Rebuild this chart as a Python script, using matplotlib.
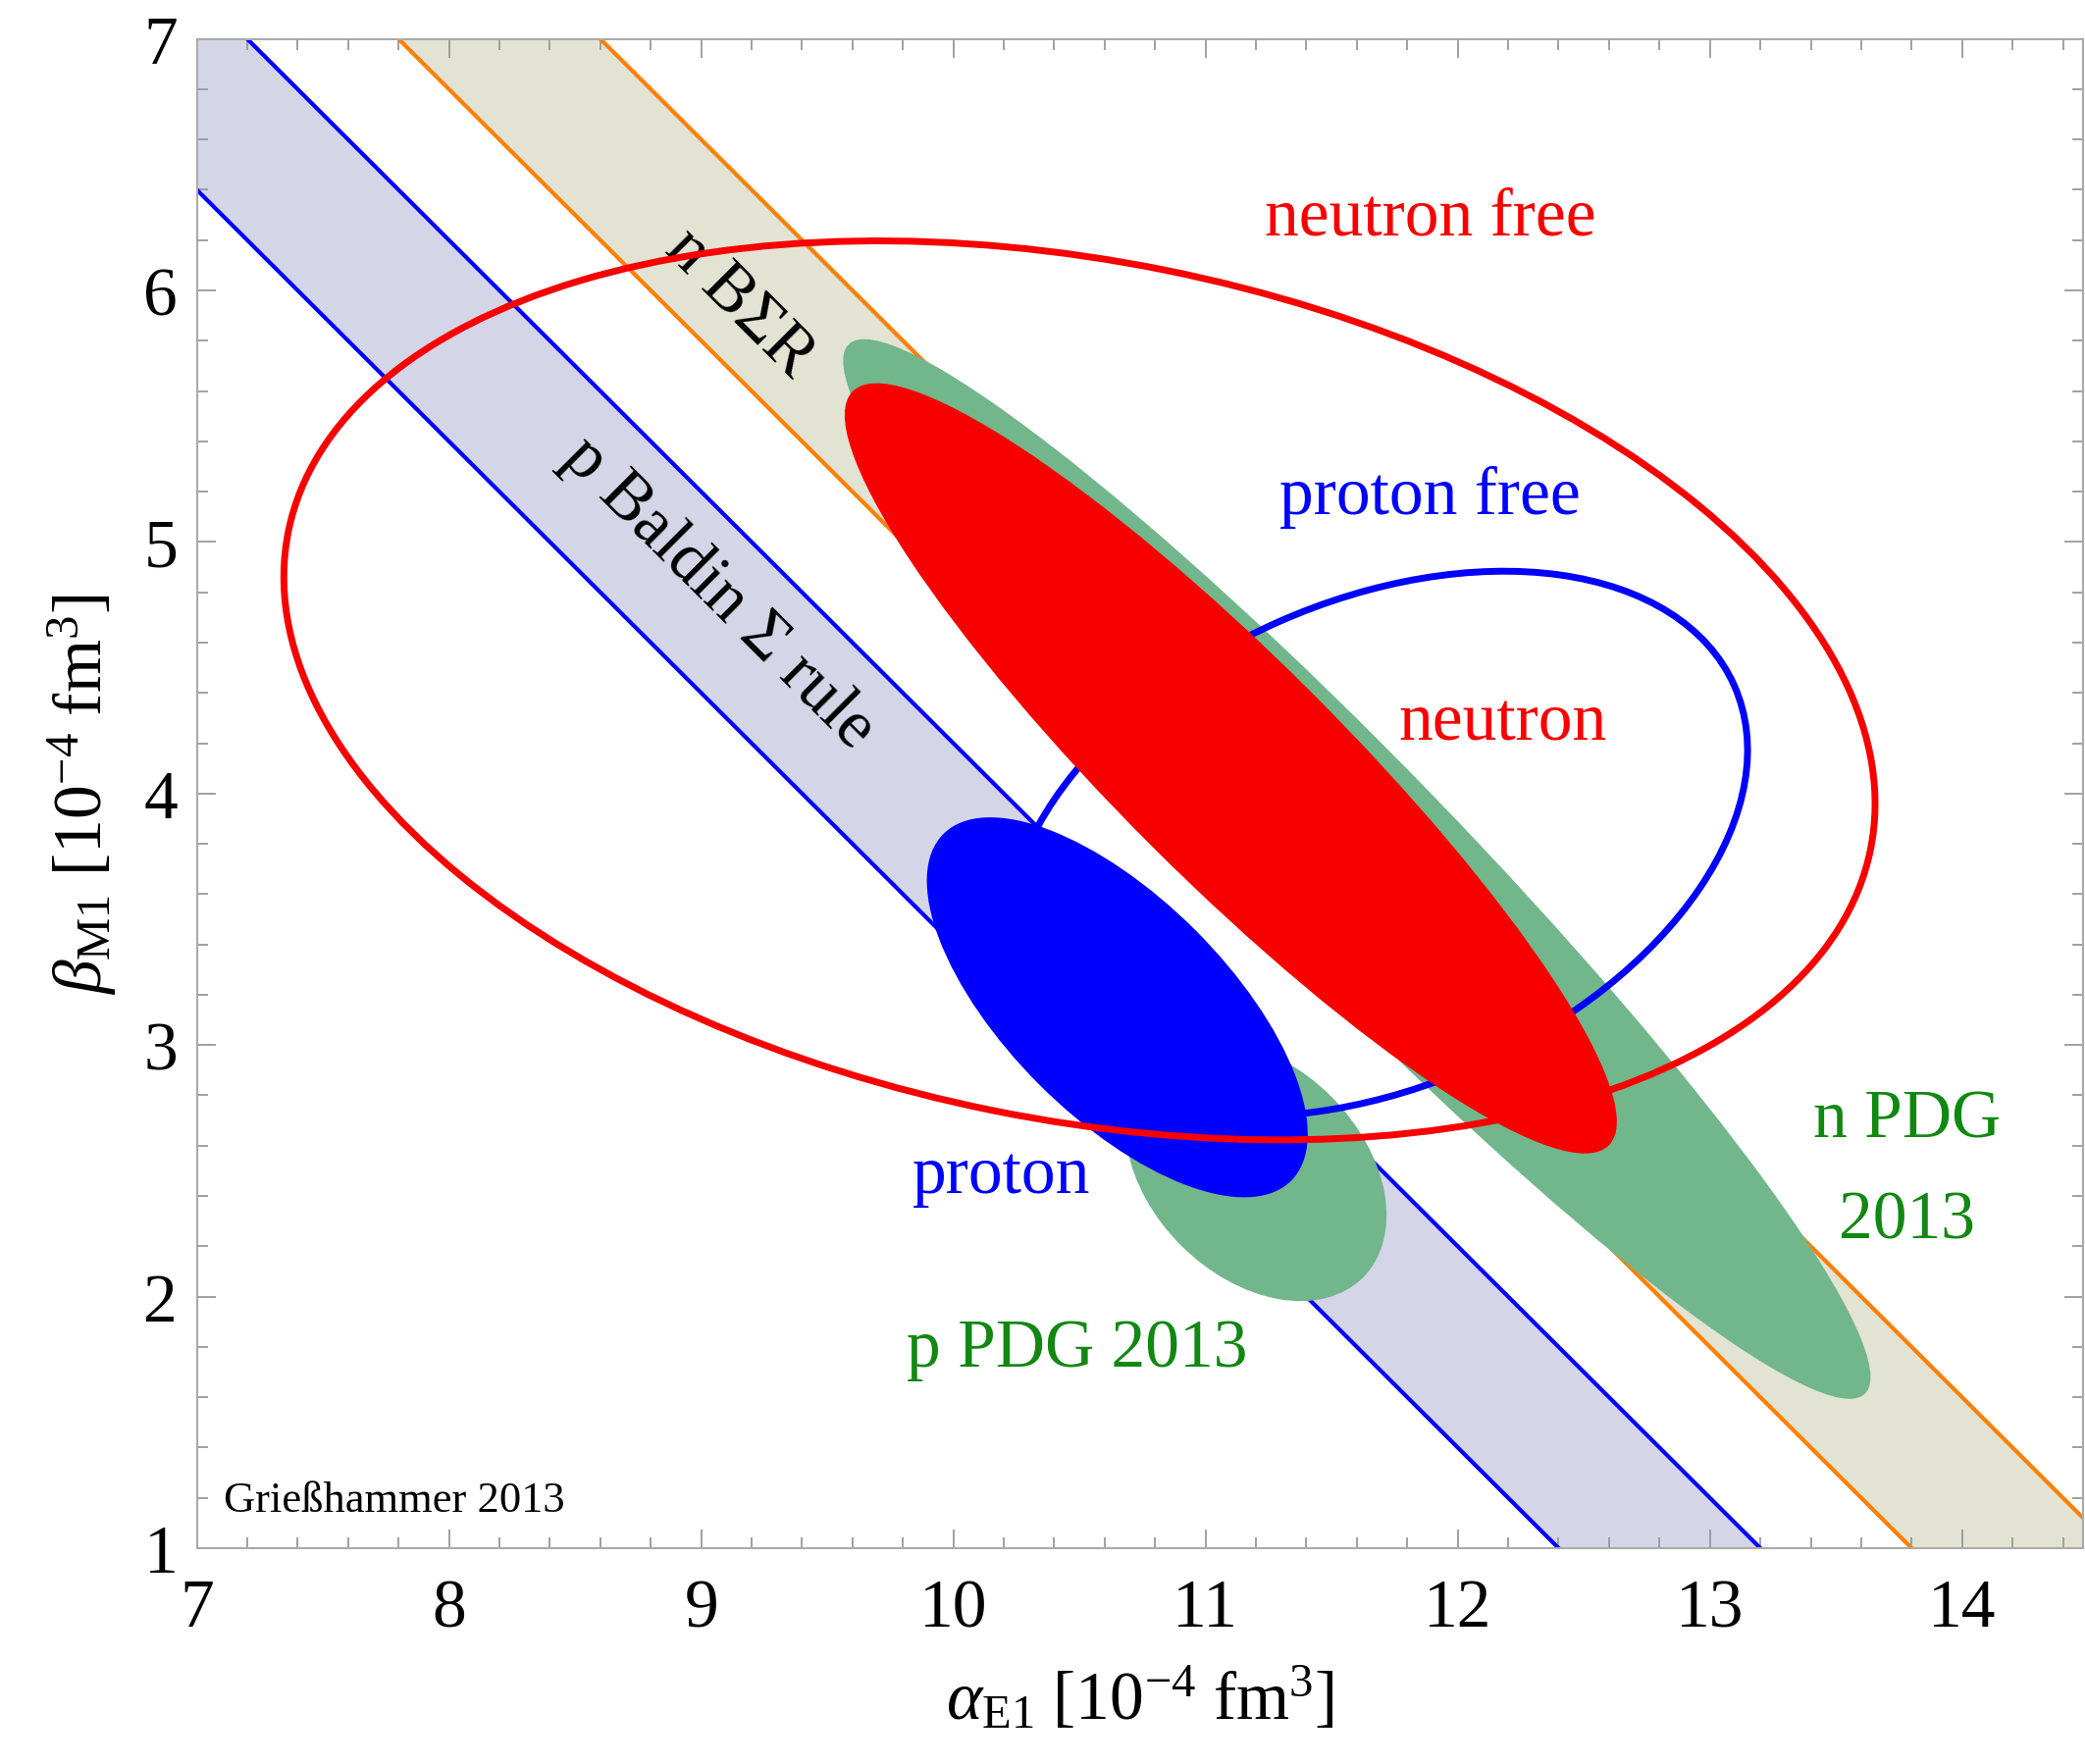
import numpy as np
import matplotlib
matplotlib.use("Agg")
import matplotlib.pyplot as plt
from matplotlib.patches import Ellipse

plt.rcParams['font.family'] = ['Liberation Serif', 'DejaVu Serif']
plt.rcParams['mathtext.fontset'] = 'custom'
plt.rcParams['mathtext.rm'] = 'Liberation Serif'
plt.rcParams['mathtext.it'] = 'Liberation Serif:italic'

# Baldin sum rule bands: alpha + beta between lower and upper value
band_names = ['p Baldin Σ rule', 'n BΣR']
band_lo = [13.4, 14.8]
band_hi = [14.2, 15.6]

# error ellipses: centre, semi-axes, tilt (deg)
ell_names = ['n PDG 2013', 'p PDG 2013', 'proton free', 'neutron', 'proton', 'neutron free']
ell_alpha = [11.6, 11.2, 11.68, 11.1, 10.65, 10.50]
ell_beta = [3.7, 2.5, 3.80, 4.1, 3.15, 4.41]
ell_major = [2.9, 0.60, 1.55, 2.12, 0.975, 3.20]
ell_minor = [0.42, 0.42, 0.965, 0.44, 0.436, 1.705]
ell_angle = [-46, -45, 24, -45, -45, -11.4]

x_ticks = [7, 8, 9, 10, 11, 12, 13, 14]
y_ticks = [1, 2, 3, 4, 5, 6, 7]

fig = plt.figure(figsize=(21.25, 17.99), dpi=100)
ax = fig.add_axes([0.0944, 0.1223, 0.9047, 0.8551])
ax.set_xlim(7, 14.48)
ax.set_ylim(1, 7)

xs = np.linspace(6, 16, 400)
band_fill = ['#d5d5e8', '#e3e3d4']
band_edge = ['#0000ff', '#ff8000']
for lo, hi, fc, ec in zip(band_lo, band_hi, band_fill, band_edge):
    ax.fill_between(xs, lo - xs, hi - xs, color=fc, lw=0, zorder=1)
    ax.plot(xs, lo - xs, color=ec, lw=3, zorder=2)
    ax.plot(xs, hi - xs, color=ec, lw=3, zorder=2)

# (facecolor, edgecolor, zorder) for each ellipse
ell_style = [
    ('#72b68c', 'none', 3),
    ('#72b68c', 'none', 3),
    ('none', '#0000ff', 4),
    ('#f80000', 'none', 5),
    ('#0000ff', 'none', 6),
    ('none', '#f80000', 7),
]
for cx, cy, a, b, ang, (fc, ec, z) in zip(ell_alpha, ell_beta, ell_major,
                                           ell_minor, ell_angle, ell_style):
    ax.add_patch(Ellipse((cx, cy), 2 * a, 2 * b, angle=ang, facecolor=fc,
                         edgecolor=ec, lw=5 if fc == 'none' else 0, zorder=z))

# labels
ax.text(9.07, 4.80, band_names[0], rotation=-45, fontsize=50,
        ha='center', va='center', rotation_mode='anchor', zorder=2.5)
ax.text(9.15, 5.95, band_names[1], rotation=-45, fontsize=50,
        ha='center', va='center', rotation_mode='anchor', zorder=2.5)
ax.text(11.89, 6.29, 'neutron free', color='#f80000', fontsize=50,
        ha='center', va='center', zorder=8)
ax.text(11.89, 5.18, 'proton free', color='#0000ff', fontsize=50,
        ha='center', va='center', zorder=8)
ax.text(12.18, 4.28, 'neutron', color='#f80000', fontsize=50,
        ha='center', va='center', zorder=8)
ax.text(10.19, 2.48, 'proton', color='#0000ff', fontsize=50,
        ha='center', va='center', zorder=8)
ax.text(13.78, 2.70, 'n PDG', color='#118811', fontsize=50,
        ha='center', va='center', zorder=8)
ax.text(13.78, 2.30, '2013', color='#118811', fontsize=50,
        ha='center', va='center', zorder=8)
ax.text(10.49, 1.79, 'p PDG 2013', color='#118811', fontsize=50,
        ha='center', va='center', zorder=8)
ax.text(7.106, 1.19, 'Grießhammer 2013', fontsize=32,
        ha='left', va='center', zorder=8)

ax.set_xticks(x_ticks)
ax.set_yticks(y_ticks)
ax.set_xticks(np.arange(7, 14.49, 0.2), minor=True)
ax.set_yticks(np.arange(1, 7.01, 0.2), minor=True)
ax.tick_params(which='both', direction='in', top=True, right=True,
               color='#999999', width=1.3)
ax.tick_params(which='major', length=14, labelsize=50)
ax.tick_params(which='minor', length=8)
ax.tick_params(axis='x', which='major', pad=22)
ax.tick_params(axis='y', which='major', pad=14)
for s in ax.spines.values():
    s.set_color('#aaaaaa')
    s.set_linewidth(1.5)

ax.set_xlabel(r'$\alpha_{\rm E1}\ [10^{-4}\ {\rm fm}^3]$', fontsize=50, labelpad=18)
ax.set_ylabel(r'$\beta_{\rm M1}\ [10^{-4}\ {\rm fm}^3]$', fontsize=50, labelpad=18)

fig.savefig('out.png', dpi=100)
